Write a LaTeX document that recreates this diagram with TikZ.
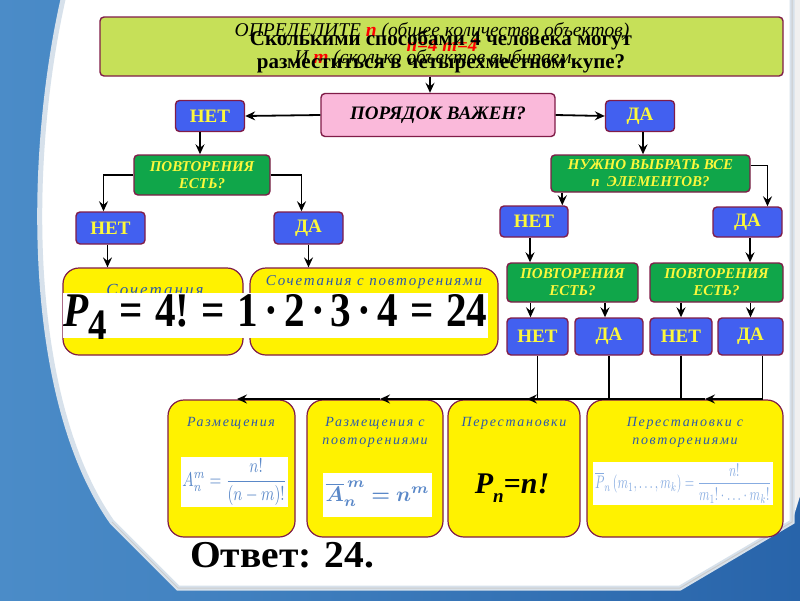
\documentclass[tikz,border=0pt]{standalone}
\usepackage{fontspec}
\setmainfont{Liberation Serif}
\newfontfamily\lblfont[LetterSpace=12]{Liberation Serif}
\usepackage{amsmath,amssymb,bm}
\usepackage{graphicx}
\usetikzlibrary{arrows.meta,calc}
\definecolor{maroon}{RGB}{128,28,72}
\definecolor{boxblue}{RGB}{66,96,240}
\definecolor{boxgreen}{RGB}{16,166,74}
\definecolor{txtyellow}{RGB}{252,248,60}
\definecolor{limebox}{RGB}{198,224,88}
\definecolor{pinkbox}{RGB}{250,185,218}
\definecolor{lblblue}{RGB}{45,88,172}
\definecolor{fblue}{RGB}{90,136,200}
\definecolor{fblue2}{RGB}{135,172,225}
\definecolor{bgl}{RGB}{75,140,200}
\definecolor{bgd}{RGB}{40,100,170}
\definecolor{panelEdge}{RGB}{215,225,235}
\begin{document}
\begin{tikzpicture}[x=1pt,y=-1pt,
  box/.style={draw=maroon,line width=1.4pt,rounded corners=4pt,inner sep=0pt,align=center},
  bluebox/.style={box,fill=boxblue,text=txtyellow,font=\fontsize{19}{21}\selectfont\bfseries},
  greenbox/.style={box,fill=boxgreen,text=txtyellow,font=\fontsize{15}{17}\selectfont\bfseries\itshape},
  ybox/.style={draw=maroon,line width=1.2pt,rounded corners=16pt,fill=yellow,inner sep=0pt},
  wbox/.style={fill=white,inner sep=0pt},
  lbl/.style={text=lblblue,font=\fontsize{14}{18}\lblfont\itshape,align=center,inner sep=0pt},
  arr/.style={line width=1.8pt,-{Stealth[length=10pt,width=9pt,inset=3.5pt]}},
  ln/.style={line width=1.8pt},
]
\useasboundingbox (0,0) rectangle (800,600);
% background
\shade[left color=bgl,right color=bgd] (0,0) rectangle (800,600);
\fill[gray!12] (792,-5) -- (805,-5) -- (805,480) -- (792,522) -- cycle;
\path[fill=white,draw=panelEdge,line width=5pt] (64,-5) .. controls (26,160) and (26,400) .. (112,522) -- (178,588) -- (680,588) -- (792,522) -- (792,-5) -- cycle;
\draw[gray!40,line width=1pt] (112,522) -- (178,588) -- (680,588) -- (792,522) -- (792,-5);

% top question box
\node[box,fill=limebox,minimum width=683pt,minimum height=59pt] (top) at (441.5,46.5) {};
\node[font=\fontsize{19.5}{21}\selectfont\itshape] (def1) at (432,32) {ОПРЕДЕЛИТЕ \textcolor{red}{\textbf{n}} (общее количество объектов)};
\node[font=\fontsize{19}{21}\selectfont\bfseries\itshape,text=red] (nm) at (442,45) {n=4 m=4};
\node[font=\fontsize{19.5}{21}\selectfont\itshape] (def2) at (433,59) {И \textcolor{red}{\textbf{m}} (сколько объектов выбираем};
\node[font=\fontsize{21}{23}\selectfont\bfseries,align=center] (quest) at (441,51.5) {Сколькими способами 4 человека могут\\разместиться в четырехместном купе?};

% level 1
\node[box,fill=pinkbox,minimum width=234pt,minimum height=43pt,font=\fontsize{19}{21}\selectfont\bfseries\itshape] (ord) at (438,115) {ПОРЯДОК ВАЖЕН?};
\node[bluebox,minimum width=69pt,minimum height=31pt] (net1) at (210,116) {НЕТ};
\node[bluebox,minimum width=69pt,minimum height=31pt] (da1) at (640,116) {ДА};

% left branch
\node[greenbox,minimum width=136pt,minimum height=40pt] (gL) at (202,175) {ПОВТОРЕНИЯ\\ЕСТЬ?};
\node[bluebox,minimum width=69pt,minimum height=32pt] (net2) at (110.5,228) {НЕТ};
\node[bluebox,minimum width=69pt,minimum height=32pt] (da2) at (308.5,228) {ДА};
\node[ybox,minimum width=180pt,minimum height=87pt] (comb) at (153,311.5) {};
\node[ybox,minimum width=248pt,minimum height=87pt] (combr) at (374,311.5) {};
\node[lbl,font=\fontsize{17}{19}\lblfont\itshape] (combl) at (155,290) {Сочетания};
\node[lbl,font=\fontsize{15}{17}\lblfont\itshape] (combrl) at (374,282) {Сочетания с повторениями};
\node[wbox,minimum width=425pt,minimum height=45pt] (strip) at (275.5,315.5) {};
\node[inner sep=0pt] (p4) at (275.5,317) {\resizebox{424pt}{32pt}{\bfseries\itshape P\raisebox{-0.25em}{\upshape\small 4}\upshape\hspace{0.3em}=\hspace{0.3em}4!\hspace{0.3em}=\hspace{0.3em}1\hspace{0.15em}·\hspace{0.15em}2\hspace{0.15em}·\hspace{0.15em}3\hspace{0.15em}·\hspace{0.15em}4\hspace{0.3em}=\hspace{0.3em}24}};

% right branch
\node[greenbox,minimum width=199pt,minimum height=37pt] (gR) at (650.5,173.5) {НУЖНО ВЫБРАТЬ ВСЕ\\n\enspace ЭЛЕМЕНТОВ?};
\node[bluebox,minimum width=68pt,minimum height=31pt] (net3) at (534,221.5) {НЕТ};
\node[bluebox,minimum width=69pt,minimum height=30pt] (da3) at (747.5,222) {ДА};
\node[greenbox,minimum width=131pt,minimum height=39pt] (g3) at (572.5,282.5) {ПОВТОРЕНИЯ\\ЕСТЬ?};
\node[greenbox,minimum width=133pt,minimum height=39pt] (g4) at (716.5,282.5) {ПОВТОРЕНИЯ\\ЕСТЬ?};
\node[bluebox,minimum width=61pt,minimum height=37pt] (n4a) at (537.5,336.5) {НЕТ};
\node[bluebox,minimum width=68pt,minimum height=37pt] (d4a) at (609,336.5) {ДА};
\node[bluebox,minimum width=62pt,minimum height=37pt] (n4b) at (681,336.5) {НЕТ};
\node[bluebox,minimum width=65pt,minimum height=37pt] (d4b) at (750.5,336.5) {ДА};

% bottom boxes
\node[ybox,minimum width=127pt,minimum height=137pt] (rA) at (231.5,468.5) {};
\node[ybox,minimum width=136pt,minimum height=137pt] (rAr) at (375,468.5) {};
\node[ybox,minimum width=132pt,minimum height=137pt] (pP) at (514,468.5) {};
\node[ybox,minimum width=196pt,minimum height=137pt] (pPr) at (685,468.5) {};
\node[lbl] (rAl) at (231,423) {Размещения};
\node[lbl] (rArl) at (375,432) {Размещения с\\повторениями};
\node[lbl] (pPl) at (514,423) {Перестановки};
\node[lbl] (pPrl) at (685,432) {Перестановки с\\повторениями};
\node[wbox,minimum width=107pt,minimum height=50pt] (rAw) at (234.5,482) {};
\node[inner sep=0pt,text=fblue] (rAf) at (234.5,482) {\resizebox*{104pt}{46pt}{$\displaystyle A_n^m=\frac{n!}{(n-m)!}$}};
\node[wbox,minimum width=109pt,minimum height=44pt] (rArw) at (377.5,495) {};
\node[inner sep=0pt,text=fblue] (rArf) at (377.5,494) {\resizebox{104pt}{!}{$\boldsymbol{\overline{A}_n^{\,m} = n^m}$}};
\node[inner sep=0pt,font=\fontsize{30}{32}\selectfont\bfseries\itshape] (pPf) at (512,488) {P\raisebox{-9pt}{\fontsize{19}{19}\selectfont n}=n!};
\node[wbox,minimum width=180pt,minimum height=43pt] (pPrw) at (683,483.5) {};
\node[inner sep=0pt,text=fblue2] (pPrf) at (683,483.5) {\resizebox*{176pt}{40pt}{$\displaystyle \overline{P}_n\,(m_1,\ldots,m_k)=\frac{n!}{m_1!\cdot\ldots\cdot m_k!}$}};

% answer
\node[anchor=base west,inner sep=0pt,font=\fontsize{38}{40}\selectfont\bfseries] (ans) at (190,567) {\scalebox{1.04}[1]{Ответ: 24.}};

% connectors
\coordinate (a0) at ($(top.south)+(-11.5,0)$);
\draw[arr] (a0) -- (a0 |- ord.north);
\draw[arr] (ord.west) -- (net1.east);
\draw[arr] (ord.east) -- (da1.west);
\coordinate (a1) at ($(net1.south)+(-10,0)$);
\draw[arr] (a1) -- (a1 |- gL.north);
\coordinate (a2) at ($(net2.north)+(-7,0)$);
\draw[arr] (gL.west) -| (a2);
\coordinate (a3) at ($(da2.north)+(-7,0)$);
\draw[arr] (gL.east) -| (a3);
\coordinate (a4) at ($(net2.south)+(-3,0)$);
\draw[arr] (a4) -- (a4 |- comb.north);
\draw[arr] (da2.south) -- (da2.south |- combr.north);
\coordinate (a5) at ($(da1.south)+(3,0)$);
\draw[arr] (a5) -- (a5 |- gR.north);
\coordinate (a6) at ($(gR.south west)+(12,0)$);
\draw[arr] (a6) -- (a6 |- net3.north);
\coordinate (a7) at ($(gR.east)+(0,-8)$);
\coordinate (a8) at ($(da3.north)+(20,0)$);
\draw[arr] (a7) -| (a8);
\coordinate (a9) at ($(net3.south)+(-4,0)$);
\draw[arr] (a9) -- (a9 |- g3.north);
\coordinate (a10) at ($(da3.south)+(2.5,0)$);
\draw[arr] (a10) -- (a10 |- g4.north);
\coordinate (b1) at ($(n4a.north)+(-7,0)$);
\draw[arr] (b1 |- g3.south) -- (b1);
\coordinate (b2) at ($(d4a.north)+(-4,0)$);
\draw[arr] (b2 |- g3.south) -- (b2);
\draw[arr] (n4b.north |- g4.south) -- (n4b.north);
\draw[arr] (d4b.north |- g4.south) -- (d4b.north);

% bottom collector
\coordinate (tA) at (237,399);
\coordinate (tB) at (380,399);
\coordinate (tC) at (527,399);
\coordinate (tD) at (705,399);
\coordinate (e4) at ($(d4b.south)+(12,0)$);
\draw[arr] (e4) |- (tD);
\draw[ln] (tD) -- (n4b.south |- tD);
\draw[arr] (n4b.south) |- (tC);
\draw[ln] (d4a.south) -- (d4a.south |- tC);
\draw[arr] (n4a.south) |- (tB);
\draw[arr] (tB) -- (tA);
\end{tikzpicture}
\end{document}
